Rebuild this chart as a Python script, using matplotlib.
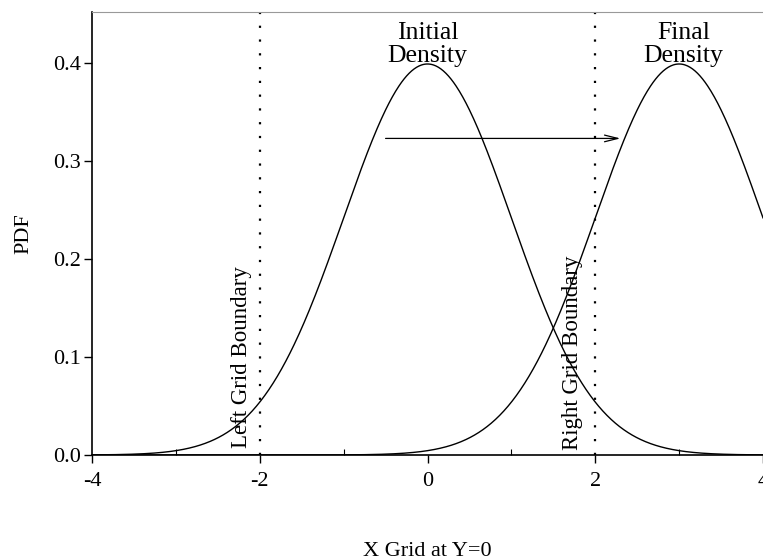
import numpy as np
import matplotlib
matplotlib.use("Agg")
import matplotlib.pyplot as plt

# Density parameters (normal distributions)
initial_mean, initial_sd = 0.0, 1.0
final_mean, final_sd = 3.0, 1.0
boundaries = [-2.0, 2.0]
boundary_labels = ["Left Grid Boundary", "Right Grid Boundary"]
x_ticks = [-4, -2, 0, 2, 4]
y_ticks = [0.0, 0.1, 0.2, 0.3, 0.4]
arrow_start = (-0.5, 0.323)
arrow_end = (2.3, 0.323)

plt.rcParams["font.family"] = ["Liberation Serif", "DejaVu Serif"]

def normal_pdf(x, mu, sd):
    return np.exp(-0.5 * ((x - mu) / sd) ** 2) / (sd * np.sqrt(2 * np.pi))

x = np.linspace(-4, 4, 801)

fig = plt.figure(figsize=(7.63, 5.6), dpi=100)
ax = fig.add_axes([0.1206, 0.1875, 0.8794, 0.7911])

ax.plot(x, normal_pdf(x, initial_mean, initial_sd), color="black", lw=1.0)
ax.plot(x, normal_pdf(x, final_mean, final_sd), color="black", lw=1.0)

for b in boundaries:
    ax.axvline(b, color="black", lw=1.6, linestyle=(0, (1, 5.2)),
               dash_capstyle="butt")

ax.text(-2.22, 0.007, boundary_labels[0], rotation=90, ha="center",
        va="bottom", fontsize=16.5)
ax.text(1.73, 0.005, boundary_labels[1], rotation=90, ha="center",
        va="bottom", fontsize=16.5)

ax.text(initial_mean, 0.401, "Initial\nDensity", ha="center", va="baseline",
        fontsize=18.5, linespacing=1.08)
ax.text(final_mean + 0.05, 0.401, "Final\nDensity", ha="center",
        va="baseline", fontsize=18.5, linespacing=1.08)

ax.annotate("", xy=arrow_end, xytext=arrow_start,
            arrowprops=dict(arrowstyle="->,head_length=0.8,head_width=0.2",
                            color="black", lw=0.9, mutation_scale=12,
                            shrinkA=0, shrinkB=0))

ax.set_xlim(-4, 4)
ax.set_ylim(0, 0.452)
ax.set_xticks(x_ticks)
ax.set_xticklabels([str(t) for t in x_ticks])
ax.set_xticks([-3, -1, 1, 3], minor=True)
ax.set_yticks(y_ticks)
ax.set_yticklabels([f"{t:.1f}" for t in y_ticks])
ax.tick_params(axis="both", which="major", direction="out", length=6,
               width=1, labelsize=16)
ax.tick_params(axis="y", which="major", pad=2)
ax.tick_params(axis="x", which="major", pad=6)
ax.tick_params(axis="x", which="minor", direction="in", length=4, width=0.8)

ax.spines["right"].set_visible(False)
ax.spines["top"].set_color("#999999")
ax.spines["left"].set_linewidth(1.2)
ax.spines["bottom"].set_linewidth(1.2)

ax.set_xlabel("X Grid at Y=0", fontsize=16, labelpad=37)
ax.set_ylabel("PDF", fontsize=16, labelpad=14)

fig.savefig("out.png", dpi=100)
